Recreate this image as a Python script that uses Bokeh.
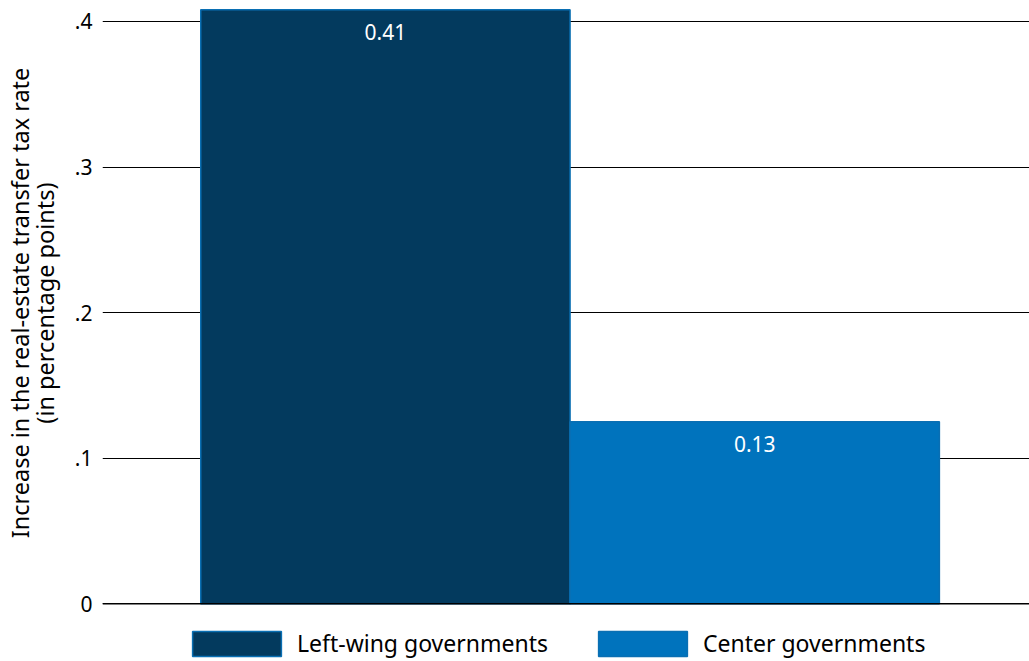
from bokeh.plotting import figure
from bokeh.models import ColumnDataSource, Range1d, FixedTicker, Legend, LegendItem, Span
from bokeh.layouts import column
from bokeh.core.properties import value
from bokeh.embed import file_html
from bokeh.resources import INLINE

categories = ["Left-wing governments", "Center governments"]
values = [0.408, 0.125]
value_labels = ["0.41", "0.13"]
colors = ["#033a5e", "#0073bd"]
y_ticks = [0, 0.1, 0.2, 0.3, 0.4]
y_tick_labels = ["0", ".1", ".2", ".3", ".4"]
y_title = "Increase in the real-estate transfer tax rate\n(in percentage points)"

FONT = "Noto Sans"

xpos = [i + 0.5 for i in range(len(categories))]
src = ColumnDataSource(dict(x=xpos, cat=categories, val=values, lab=value_labels, col=colors))
xr = Range1d(-0.266, 2.244)

p = figure(width=1029, height=617, output_backend="svg", toolbar_location=None,
           x_range=xr, y_range=Range1d(-0.0012, 0.4144),
           min_border_left=102, min_border_right=0, min_border_top=0, min_border_bottom=12)
p.outline_line_color = None

r = p.vbar(x="x", top="val", width=1.0, source=src, fill_color="col",
           line_color="#0a6fb3", line_width=1.5)

p.text(x="x", y="val", text="lab", source=src, text_color="white",
       text_font=value(FONT), text_font_size="21px", text_align="center",
       text_baseline="middle", y_offset=22)

p.add_layout(Span(location=0, dimension="width", line_color="black", line_width=1.5))

p.xaxis.visible = False
p.xgrid.grid_line_color = None
p.ygrid.grid_line_color = "black"
p.ygrid.grid_line_width = 1

ya = p.yaxis[0]
ya.ticker = FixedTicker(ticks=y_ticks)
ya.major_label_overrides = dict(zip(y_ticks, y_tick_labels))
ya.axis_line_color = None
ya.major_tick_line_color = None
ya.minor_tick_line_color = None
ya.major_tick_out = 0
ya.major_tick_in = 0
ya.major_label_standoff = 10
ya.major_label_text_font = FONT
ya.major_label_text_font_size = "21px"
ya.major_label_text_color = "black"
ya.axis_label = y_title
ya.axis_label_text_font = FONT
ya.axis_label_text_font_size = "23.5px"
ya.axis_label_text_line_height = 0.78
ya.axis_label_text_font_style = "normal"
ya.axis_label_text_color = "black"
ya.axis_label_standoff = 11

# legend strip below the chart
lg = figure(width=1029, height=44, output_backend="svg", toolbar_location=None,
            x_range=xr, y_range=Range1d(10, 11),
            min_border_left=102, min_border_right=0, min_border_top=0, min_border_bottom=0)
lg.outline_line_color = None
lg.axis.visible = False
lg.grid.visible = False
r2 = lg.vbar(x="x", top="val", width=1.0, source=src, fill_color="col",
             line_color="#0a6fb3", line_width=1.5)
r2.visible = False

items = [LegendItem(label=categories[i], renderers=[r2], index=i) for i in range(len(categories))]
legend = Legend(items=items, orientation="horizontal", location=(79, 2),
                glyph_width=111, glyph_height=31, label_standoff=5, spacing=39,
                padding=0, margin=0, border_line_color=None, background_fill_alpha=0,
                inactive_fill_alpha=0, click_policy="none",
                label_text_font=FONT, label_text_font_size="23px", label_text_color="black")
lg.add_layout(legend, "center")

layout = column(p, lg, spacing=0)
open("out.html", "w").write(file_html(layout, INLINE))
